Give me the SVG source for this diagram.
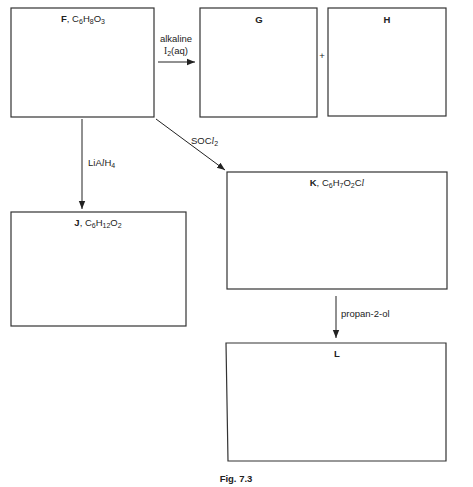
<svg xmlns="http://www.w3.org/2000/svg" width="473" height="487" viewBox="0 0 473 487">
<style>
.box{fill:#fff;stroke:#333;stroke-width:1.2}
.t{font-family:"Liberation Sans",Arial,sans-serif;font-size:9.5px;fill:#222}
.c{text-anchor:middle}
.b{font-weight:bold}
.s{font-size:7px}
.ser{font-family:"Liberation Serif","Times New Roman",serif}
.it{font-family:"Liberation Serif","Times New Roman",serif;font-style:italic}
.ln{stroke:#222;stroke-width:1;fill:none}
</style>
<defs>
<marker id="ah" viewBox="0 0 10 10" refX="10" refY="5" markerWidth="8" markerHeight="8" markerUnits="userSpaceOnUse" orient="auto">
<path d="M0,1 L10,5 L0,9 Z" fill="#222"/>
</marker>
</defs>
<rect width="473" height="487" fill="#fff"/>
<g id="F"><rect class="box" x="11" y="8" width="143" height="109"/>
<text class="t c" x="83" y="22"><tspan class="b">F</tspan>, C<tspan class="s" dy="2">6</tspan><tspan dy="-2">H</tspan><tspan class="s" dy="2">8</tspan><tspan dy="-2">O</tspan><tspan class="s" dy="2">3</tspan></text></g>
<g id="G"><rect class="box" x="200" y="8" width="117" height="109"/>
<text class="t c b" x="259" y="23">G</text></g>
<g id="plus"><text class="t c" x="322" y="59" font-size="8">+</text></g>
<g id="H"><rect class="box" x="328" y="8" width="118" height="108"/>
<text class="t c b" x="387" y="23">H</text></g>
<g id="J"><rect class="box" x="11" y="212" width="175" height="114"/>
<text class="t c" x="98" y="226"><tspan class="b">J</tspan>, C<tspan class="s" dy="2">6</tspan><tspan dy="-2">H</tspan><tspan class="s" dy="2">12</tspan><tspan dy="-2">O</tspan><tspan class="s" dy="2">2</tspan></text></g>
<g id="K"><rect class="box" x="227" y="172" width="220" height="117"/>
<text class="t c" x="337" y="186"><tspan class="b">K</tspan>, C<tspan class="s" dy="2">6</tspan><tspan dy="-2">H</tspan><tspan class="s" dy="2">7</tspan><tspan dy="-2">O</tspan><tspan class="s" dy="2">2</tspan><tspan dy="-2">C</tspan><tspan class="it">l</tspan></text></g>
<g id="L"><path class="box" d="M226,343 L446,343 L446,461 L228,461 Z"/>
<text class="t c b" x="337" y="357">L</text></g>
<g id="connectors">
<line class="ln" x1="158" y1="62" x2="195" y2="62" marker-end="url(#ah)"/>
<text class="t c" x="176" y="42">alkaline</text>
<text class="t c" x="176" y="54"><tspan class="ser">I</tspan><tspan class="s" dy="2">2</tspan><tspan dy="-2">(aq)</tspan></text>
<line class="ln" x1="82" y1="119" x2="82" y2="209" marker-end="url(#ah)"/>
<text class="t" x="88" y="166">LiA<tspan class="it">l</tspan>H<tspan class="s" dy="2">4</tspan></text>
<line class="ln" x1="156" y1="119" x2="225" y2="170" marker-end="url(#ah)"/>
<text class="t" x="191" y="144">SOC<tspan class="it">l</tspan><tspan class="s" dy="2">2</tspan></text>
<line class="ln" x1="336" y1="296" x2="336" y2="338" marker-end="url(#ah)"/>
<text class="t" x="341" y="317">propan-2-ol</text>
</g>
<text class="t c b" x="236" y="482">Fig. 7.3</text>
</svg>
